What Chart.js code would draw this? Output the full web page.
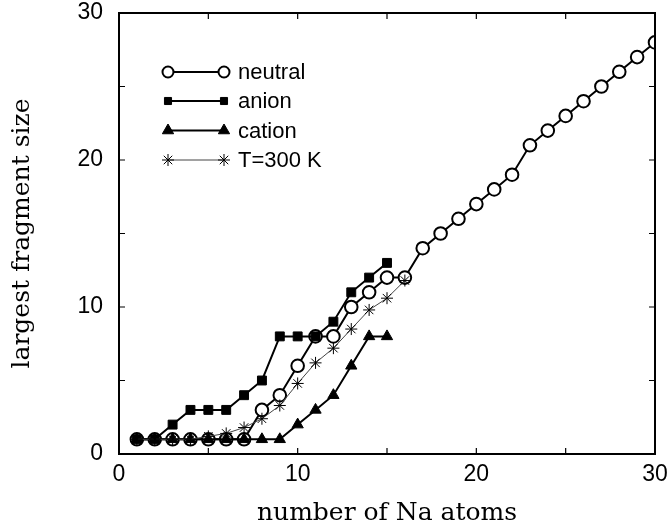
<!DOCTYPE html>
<html><head><meta charset="utf-8">
<script src="https://cdn.jsdelivr.net/npm/chart.js@4/dist/chart.umd.min.js"></script>
<style>html,body{margin:0;padding:0;background:#fff}</style>
</head><body>
<canvas id="c" width="670" height="529"></canvas>
<script>
// ---- data ----
const nNeutral = [1,2,3,4,5,6,7,8,9,10,11,12,13,14,15,16,17,18,19,20,21,22,23,24,25,26,27,28,29,30];
const neutral  = [1,1,1,1,1,1,1,3,4,6,8,8,10,11,12,12,14,15,16,17,18,19,21,22,23,24,25,26,27,28];
const nAnion   = [1,2,3,4,5,6,7,8,9,10,11,12,13,14,15];
const anion    = [1,1,2,3,3,3,4,5,8,8,8,9,11,12,13];
const nCation  = [1,2,3,4,5,6,7,8,9,10,11,12,13,14,15];
const cation   = [1,1,1,1,1,1,1,1,1,2,3,4,6,8,8];
const nT300    = [1,2,3,4,5,6,7,8,9,10,11,12,13,14,15,16];
const t300     = [1,1,1,1,1.2,1.4,1.8,2.4,3.3,4.8,6.2,7.2,8.5,9.8,10.6,11.8];
const xTicks = [0,10,20,30];
const yTicks = [0,10,20,30];
const minorStep = 5;
const seriesNames = ['neutral','anion','cation','T=300 K'];

const pts = (xs, ys) => xs.map((x,i)=>({x, y: ys[i]}));

const legendPlugin = {
  id: 'legendLines',
  afterDatasetsDraw(chart) {
    const ctx = chart.ctx;
    const rows = [72, 101, 130.5, 160];
    const x1 = 168, x2 = 224, tx = 238;
    const lr = [5.5, 5, 6.5, 6];
    chart.data.datasets.forEach((ds, i) => {
      const y = rows[i];
      ctx.save();
      ctx.strokeStyle = ds.borderColor;
      ctx.lineWidth = ds.borderWidth;
      ctx.beginPath(); ctx.moveTo(x1, y); ctx.lineTo(x2, y); ctx.stroke();
      const o = {pointStyle: ds.pointStyle, radius: lr[i], rotation: 0, borderWidth: ds.pointBorderWidth};
      [x1, x2].forEach(x => {
        ctx.fillStyle = ds.pointBackgroundColor;
        ctx.strokeStyle = ds.pointBorderColor;
        ctx.lineWidth = ds.pointBorderWidth;
        Chart.helpers.drawPoint(ctx, o, x, y);
      });
      ctx.fillStyle = '#000';
      ctx.font = '22px "Liberation Sans", Arial, sans-serif';
      ctx.textBaseline = 'middle';
      ctx.textAlign = 'left';
      ctx.fillText(seriesNames[i], tx, y + 1);
      ctx.restore();
    });
  }
};

const framePlugin = {
  id: 'frame',
  afterDraw(chart) {
    const ctx = chart.ctx, a = chart.chartArea;
    const xs = chart.scales.x, ys = chart.scales.y;
    ctx.save();
    ctx.strokeStyle = '#000';
    ctx.lineWidth = 2;
    ctx.strokeRect(a.left, a.top, a.right - a.left, a.bottom - a.top);
    ctx.lineWidth = 1.2;
    const tl = 6;
    ctx.beginPath();
    for (let v = minorStep; v < 30; v += minorStep) {
      const px = xs.getPixelForValue(v);
      ctx.moveTo(px, a.bottom); ctx.lineTo(px, a.bottom - tl);
      ctx.moveTo(px, a.top); ctx.lineTo(px, a.top + tl);
      const py = ys.getPixelForValue(v);
      ctx.moveTo(a.left, py); ctx.lineTo(a.left + tl, py);
      ctx.moveTo(a.right, py); ctx.lineTo(a.right - tl, py);
    }
    ctx.stroke();
    ctx.restore();
  }
};

const tickFont = {family: '"Liberation Sans", Arial, sans-serif', size: 23};
const titleFont = {family: '"DejaVu Serif", serif', size: 25};

new Chart(document.getElementById('c'), {
  type: 'line',
  data: {
    datasets: [
      {label: seriesNames[0], data: pts(nNeutral, neutral), order: 4,
       borderColor: '#000', borderWidth: 2, pointStyle: 'circle', pointRadius: 6.3,
       pointBackgroundColor: '#fff', pointBorderColor: '#000', pointBorderWidth: 2},
      {label: seriesNames[1], data: pts(nAnion, anion), order: 3,
       borderColor: '#000', borderWidth: 2, pointStyle: 'rect', pointRadius: 6.3,
       pointBackgroundColor: '#000', pointBorderColor: '#000', pointBorderWidth: 1},
      {label: seriesNames[2], data: pts(nCation, cation), order: 2,
       borderColor: '#000', borderWidth: 2, pointStyle: 'triangle', pointRadius: 6.5,
       pointBackgroundColor: '#000', pointBorderColor: '#000', pointBorderWidth: 1},
      {label: seriesNames[3], data: pts(nT300, t300), order: 1,
       borderColor: '#444', borderWidth: 1, pointStyle: 'star', pointRadius: 6,
       pointBackgroundColor: '#000', pointBorderColor: '#000', pointBorderWidth: 1}
    ]
  },
  options: {
    responsive: false,
    animation: false,
    devicePixelRatio: 1,
    layout: {padding: {top: 13, right: 15, left: 0, bottom: 0}},
    plugins: {legend: {display: false}, tooltip: {enabled: false}},
    scales: {
      x: {
        type: 'linear', min: 0, max: 30,
        afterFit: s => { s.height = 75; s.paddingLeft = 0; s.paddingRight = 0; },
        afterBuildTicks: s => { s.ticks = xTicks.map(v => ({value: v})); },
        ticks: {font: tickFont, color: '#000', padding: 7, maxRotation: 0},
        grid: {display: false, drawTicks: false},
        border: {display: false},
        title: {display: true, text: 'number of Na atoms', font: titleFont, color: '#000', padding: {top: 0, bottom: 1}}
      },
      y: {
        type: 'linear', min: 0, max: 30,
        afterFit: s => { s.width = 119; s.paddingTop = 0; s.paddingBottom = 0; },
        afterBuildTicks: s => { s.ticks = yTicks.map(v => ({value: v})); },
        ticks: {font: tickFont, color: '#000', padding: 16},
        grid: {display: false, drawTicks: false},
        border: {display: false},
        title: {display: true, text: 'largest fragment size', font: titleFont, color: '#000', padding: {top: 7.5, bottom: 0}}
      }
    }
  },
  plugins: [legendPlugin, framePlugin]
});
</script>
</body></html>
